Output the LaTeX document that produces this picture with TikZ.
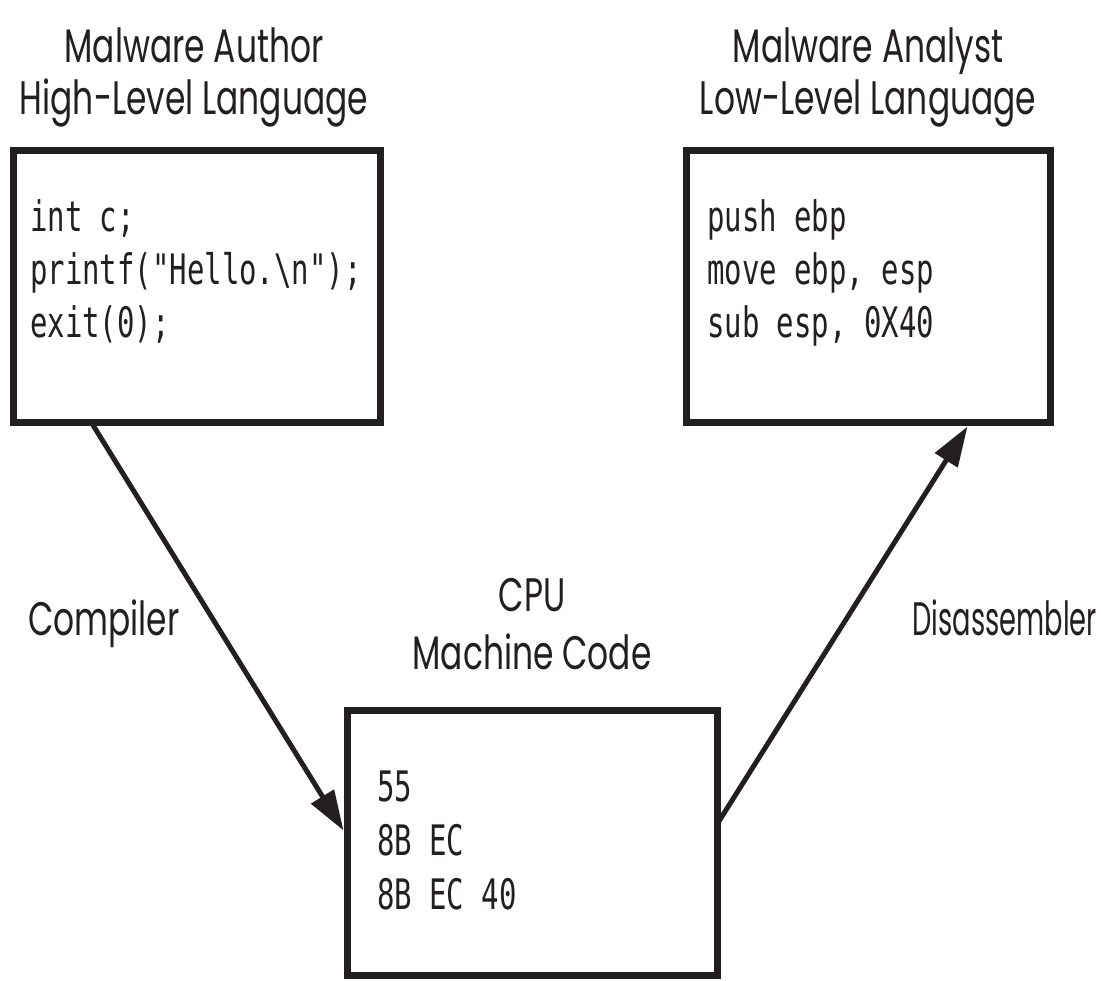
\documentclass[tikz,border=0pt]{standalone}
\usepackage{fontspec}
\setmainfont{Poppins}[FakeStretch=0.70]
\newfontfamily\narrowsans{Poppins}[FakeStretch=0.58]
\newfontfamily\codefamily{DejaVu Sans Mono}[FakeStretch=0.69]
\usetikzlibrary{arrows.meta,calc}
\definecolor{ink}{RGB}{35,31,32}
\newcommand\lblsize{\fontsize{47pt}{50pt}\selectfont}
\newcommand\codesize{\codefamily\fontsize{42pt}{53pt}\selectfont}
\begin{document}
\begin{tikzpicture}[x=1pt,y=-1pt,
  frame/.style={draw=ink, line width=7pt, rectangle, inner sep=0pt},
  title/.style={font=\lblsize, text=ink, inner sep=0pt, anchor=base},
  codeline/.style={font=\codesize, text=ink, inner sep=0pt, anchor=base west},
  flow/.style={draw=ink, line width=5pt, -{Triangle[length=40pt,width=26pt]}}]
\useasboundingbox[fill=white] (0,0) rectangle (1101,981);

% the three boxes
\node[frame, minimum width=366.5pt, minimum height=272pt] (author) at (196.75,287) {};
\node[frame, minimum width=364pt, minimum height=272pt] (analyst) at (868,287) {};
\node[frame, minimum width=370pt, minimum height=265pt] (cpu) at (532,842.5) {};

% headings
\node[title] (authorA) at (194,63) {Malware Author};
\node[title] (authorB) at (194,115) {High-Level Language};
\node[title] (analystA) at (868,63) {Malware Analyst};
\node[title] (analystB) at (868,115) {Low-Level Language};
\node[title] (cpuA) at (532,611) {CPU};
\node[title] (cpuB) at (532,669) {Machine Code};
\node[title, anchor=base west] (compiler) at (28,635) {Compiler};
\node[title, anchor=base east, font=\lblsize\narrowsans] (disasm) at (1097,635) {Disassembler};

% source code
\node[codeline] (src1) at (30,232) {int c;};
\node[codeline] (src2) at (30,285) {printf("Hello.\textbackslash n");};
\node[codeline] (src3) at (30,338) {exit(0);};

% assembly
\node[codeline] (asm1) at (707,232) {push ebp};
\node[codeline] (asm2) at (707,285) {move ebp, esp};
\node[codeline] (asm3) at (707,338) {sub esp, 0X40};

% machine code
\node[codeline] (mc1) at (377,801) {55};
\node[codeline] (mc2) at (377,855) {8B EC};
\node[codeline] (mc3) at (377,909) {8B EC 40};

% compile and disassemble
\draw[flow] ([xshift=82pt,yshift=3pt]author.south west) -- ([yshift=12pt]cpu.west);
\draw[flow] ([xshift=-3pt,yshift=19pt]cpu.east) -- ([xshift=-86pt]analyst.south east);
\end{tikzpicture}
\end{document}
